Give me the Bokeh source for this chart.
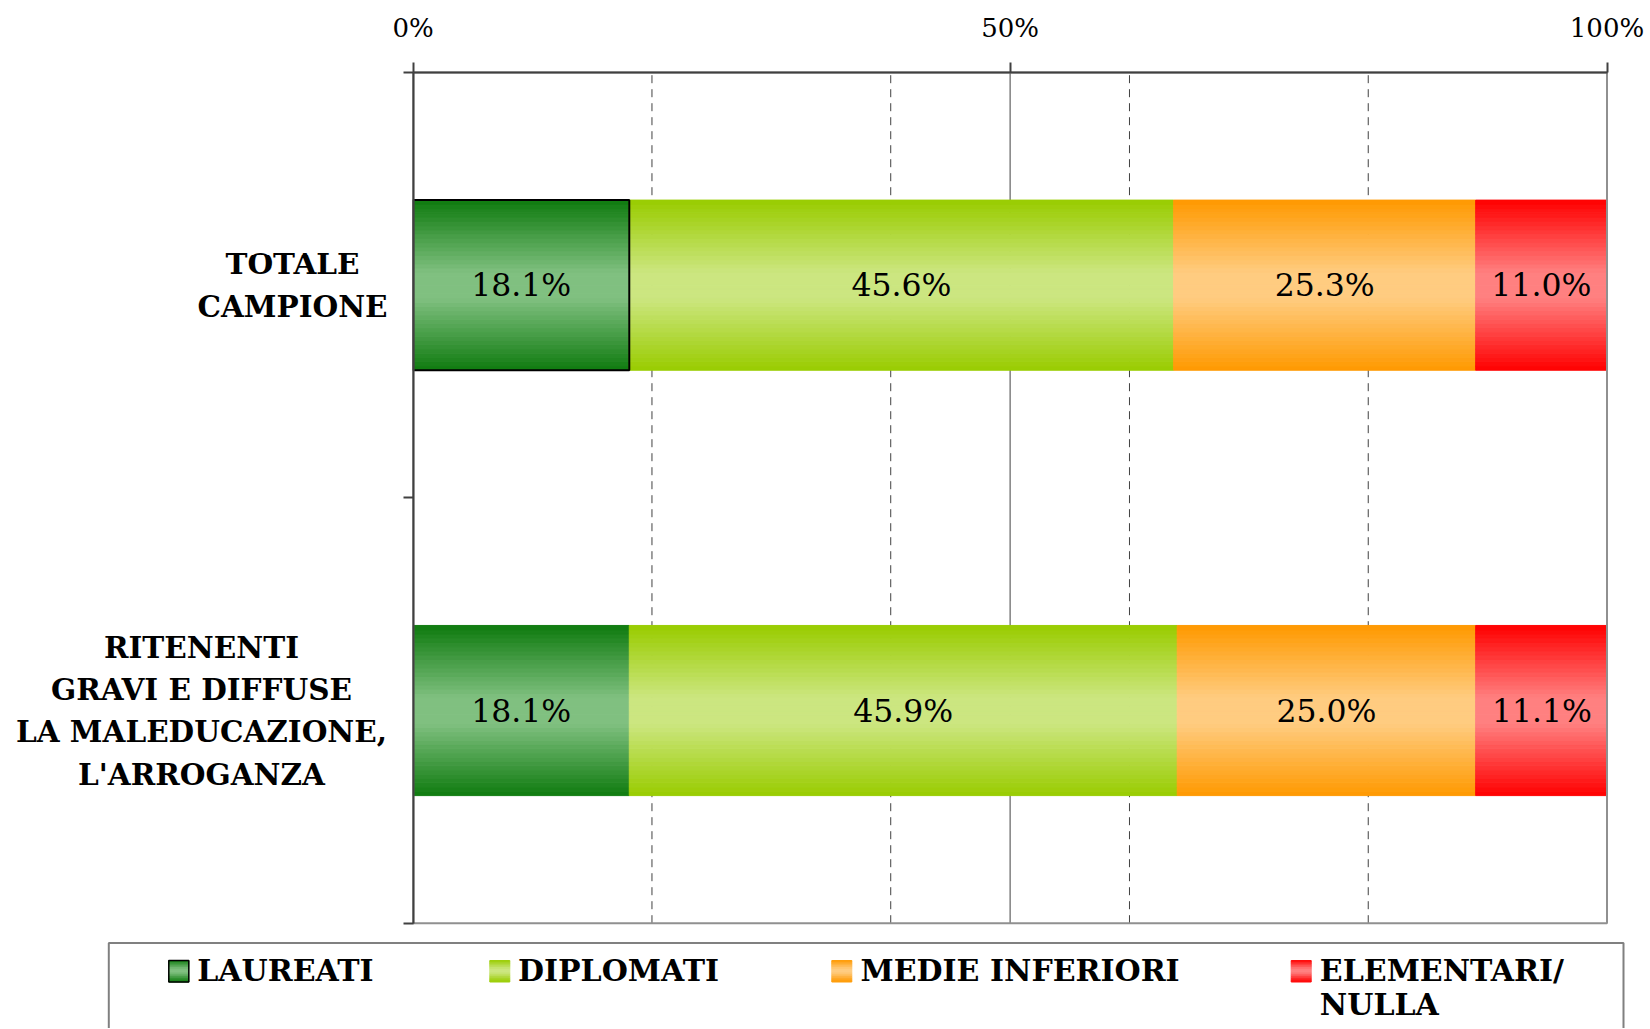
import numpy as np
from bokeh.plotting import figure
from bokeh.models import Range1d, FixedTicker, LinearAxis, PrintfTickFormatter
from bokeh.core.properties import value
from bokeh.embed import file_html
from bokeh.resources import INLINE

# ---------------- data ----------------
categories = ["TOTALE\nCAMPIONE",
              "RITENENTI\nGRAVI E DIFFUSE\nLA MALEDUCAZIONE,\nL'ARROGANZA"]
series_names = ["LAUREATI", "DIPLOMATI", "MEDIE INFERIORI", "ELEMENTARI/\nNULLA"]
laureati = [18.1, 18.1]
diplomati = [45.6, 45.9]
medie_inferiori = [25.3, 25.0]
elementari_nulla = [11.0, 11.1]
x_ticks = [0, 50, 100]
dashed_gridlines = [20, 40, 60, 80]
solid_gridlines = [50]

# ---------------- layout / styles (pixels on the canvas) ----------------
W, H = 1646, 1028
PLOT_L, PLOT_R, PLOT_T, PLOT_B = 412.7, 1606.5, 72.0, 922.7
LABEL_CX = [292, 201]                      # centre of each category label block
LEG_BOX = (108.3, 1623.0, 942.5)           # left, right, top
LEG_SW_X = [168.3, 489.3, 831.3, 1290.7]   # swatch left edges
LEG_TX_X = [196.7, 517.5, 860.0, 1319.3]   # legend text left edges
SW_W, SW_TOP, SW_BOT = 20, 960, 981.5
LEG_TEXT_TOP = 952.5

EDGE = ["#0f7b0f", "#99cc00", "#ff9900", "#ff0000"]
MID = ["#80c080", "#cce680", "#ffcc80", "#ff8080"]
BAR_H = 0.4
N_STRIPS = 40
SERIF = "DejaVu Serif"
AXIS_COL = "#404040"
BORDER_COL = "#909090"

series_values = [laureati, diplomati, medie_inferiori, elementari_nulla]
n_cat = len(categories)
y_centers = [n_cat - i - 0.5 for i in range(n_cat)]

# data <-> pixel mapping so that 0..100 % and 0..n_cat fill the plot area
sx = (PLOT_R - PLOT_L) / 100.0
sy = (PLOT_B - PLOT_T) / n_cat
x_start, x_end = -PLOT_L / sx, (W - PLOT_L) / sx
y_end, y_start = n_cat + PLOT_T / sy, -(H - PLOT_B) / sy


def px2x(px):
    return x_start + px / sx


def px2y(py):
    return y_end - py / sy


def hex2rgb(h):
    return np.array([int(h[i:i + 2], 16) for i in (1, 3, 5)], float)


def gradient(edge, mid, n):
    e, m = hex2rgb(edge), hex2rgb(mid)
    t = (np.arange(n) + 0.5) / n
    d = np.abs(t - 0.5) * 2
    w = np.clip((d - 0.15) / 0.85, 0, 1)
    cols = m[None, :] + (e - m)[None, :] * w[:, None]
    return ["#%02x%02x%02x" % tuple(int(round(c)) for c in row) for row in cols]


p = figure(width=W, height=H, x_range=Range1d(x_start, x_end), y_range=Range1d(y_start, y_end),
           x_axis_type=None, y_axis_type=None, output_backend="svg", toolbar_location=None,
           min_border=0, min_border_left=0, min_border_right=0, min_border_top=0,
           min_border_bottom=0, outline_line_color=None)
p.grid.visible = False

# gridlines (under the bars)
p.segment(x0=dashed_gridlines, y0=[0] * len(dashed_gridlines), x1=dashed_gridlines,
          y1=[n_cat] * len(dashed_gridlines), line_color=AXIS_COL, line_width=1, line_dash="8 6")
p.segment(x0=solid_gridlines, y0=[0] * len(solid_gridlines), x1=solid_gridlines,
          y1=[n_cat] * len(solid_gridlines), line_color=AXIS_COL, line_width=1)

# gradient bars as thin strips
L, R, B, T, C = [], [], [], [], []
for j, vals in enumerate(series_values):
    cols = gradient(EDGE[j], MID[j], N_STRIPS)
    for i, v in enumerate(vals):
        left = sum(series_values[k][i] for k in range(j))
        right = min(left + v, 100)
        for s in range(N_STRIPS):
            b = y_centers[i] - BAR_H / 2 + s * BAR_H / N_STRIPS
            L.append(left); R.append(right)
            B.append(b); T.append(b + BAR_H / N_STRIPS); C.append(cols[s])
p.quad(left=L, right=R, bottom=B, top=T, fill_color=C, line_color=C, line_width=1)

# highlighted (selected) segment outline
p.quad(left=[0], right=[laureati[0]], bottom=[y_centers[0] - BAR_H / 2],
       top=[y_centers[0] + BAR_H / 2], fill_alpha=0, line_color="black", line_width=2)

# plot-area border
p.quad(left=[0], right=[100], bottom=[0], top=[n_cat], fill_alpha=0,
       line_color=BORDER_COL, line_width=2)

# value labels
lx, ly, lt = [], [], []
for i in range(n_cat):
    cum = 0
    for vals in series_values:
        v = vals[i]
        lx.append(cum + v / 2); ly.append(y_centers[i]); lt.append(f"{v:.1f}%")
        cum += v
p.text(x=lx, y=ly, text=lt, text_align="center", text_baseline="middle",
       text_font=value(SERIF), text_font_size="31.5px", text_color="black")

# category labels (lines centred inside each block)
p.text(x=[px2x(c) for c in LABEL_CX], y=y_centers, text=categories,
       text_align="center", text_baseline="middle", text_font=value(SERIF),
       text_font_style="bold", text_font_size="29.5px", text_color="black",
       text_line_height=1.21)

# axes
xa = LinearAxis(fixed_location=n_cat, bounds=(0, 100),
                ticker=FixedTicker(ticks=x_ticks, minor_ticks=[]),
                formatter=PrintfTickFormatter(format="%d%%"))
xa.axis_line_color = AXIS_COL
xa.axis_line_width = 2
xa.major_tick_line_color = AXIS_COL
xa.major_tick_line_width = 2
xa.major_tick_out = 10
xa.major_tick_in = 0
xa.major_label_standoff = 20
xa.major_label_text_font = SERIF
xa.major_label_text_font_size = "26px"
xa.major_label_text_color = "black"
p.add_layout(xa, "above")

ya = LinearAxis(fixed_location=0, bounds=(0, n_cat),
                ticker=FixedTicker(ticks=list(range(n_cat + 1)), minor_ticks=[]))
ya.axis_line_color = AXIS_COL
ya.axis_line_width = 2
ya.major_tick_line_color = AXIS_COL
ya.major_tick_line_width = 2
ya.major_tick_out = 10
ya.major_tick_in = 0
ya.major_label_text_color = None
ya.major_label_text_font_size = "1px"
p.add_layout(ya, "left")

# ---------------- legend ----------------
p.quad(left=[px2x(LEG_BOX[0])], right=[px2x(LEG_BOX[1])], top=[px2y(LEG_BOX[2])],
       bottom=[px2y(H + 30)], fill_color=None, line_color="#808080", line_width=2)
sL, sR, sB, sT, sC = [], [], [], [], []
NS = 12
for j in range(len(series_names)):
    cols = gradient(EDGE[j], MID[j], NS)
    h = (SW_BOT - SW_TOP) / NS
    for s in range(NS):
        sL.append(px2x(LEG_SW_X[j])); sR.append(px2x(LEG_SW_X[j] + SW_W))
        sT.append(px2y(SW_TOP + s * h)); sB.append(px2y(SW_TOP + (s + 1) * h)); sC.append(cols[s])
p.quad(left=sL, right=sR, bottom=sB, top=sT, fill_color=sC, line_color=sC, line_width=1)
p.quad(left=[px2x(LEG_SW_X[0])], right=[px2x(LEG_SW_X[0] + SW_W)], top=[px2y(SW_TOP)],
       bottom=[px2y(SW_BOT)], fill_alpha=0, line_color="black", line_width=1.5)
p.text(x=[px2x(v) for v in LEG_TX_X], y=[px2y(LEG_TEXT_TOP)] * len(series_names),
       text=series_names, text_align="left", text_baseline="top",
       text_font=value(SERIF), text_font_style="bold", text_font_size="30px",
       text_color="black", text_line_height=0.98)

open("out.html", "w").write(file_html(p, INLINE))
